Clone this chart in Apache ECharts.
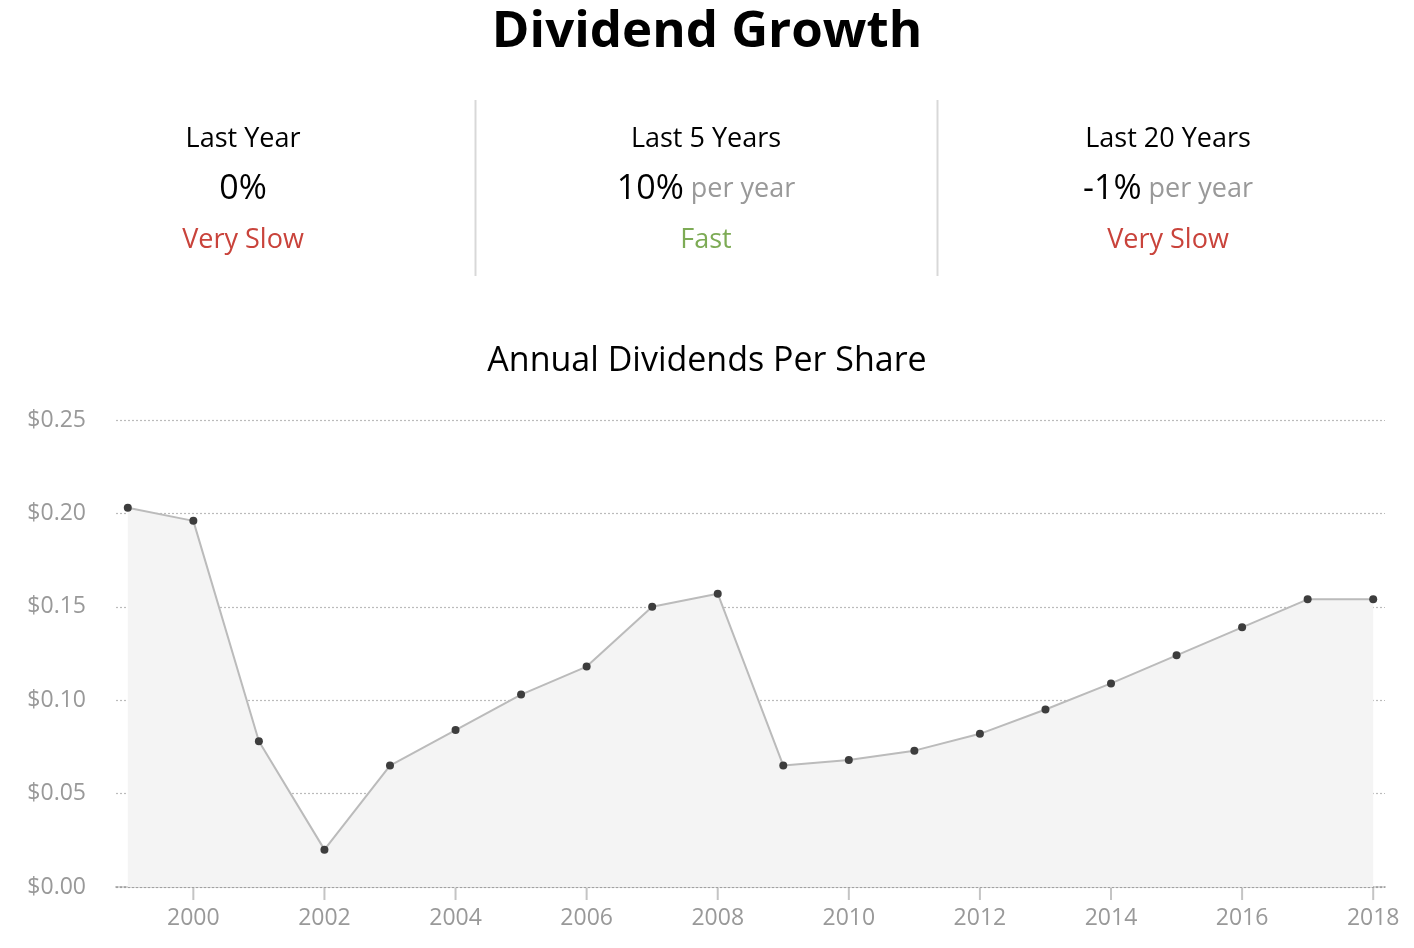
<!DOCTYPE html>
<html>
<head>
<meta charset="utf-8">
<script src="https://cdn.jsdelivr.net/npm/echarts@6/dist/echarts.min.js"></script>
<style>
html,body{margin:0;padding:0;background:#fff;}
#main{width:1414px;height:948px;}
</style>
</head>
<body>
<div id="main"></div>
<script>
const years = [1999,2000,2001,2002,2003,2004,2005,2006,2007,2008,2009,2010,2011,2012,2013,2014,2015,2016,2017,2018];
const dividends = [0.203,0.196,0.078,0.020,0.065,0.084,0.103,0.118,0.150,0.157,0.065,0.068,0.073,0.082,0.095,0.109,0.124,0.139,0.154,0.154];
const xTickYears = [2000,2002,2004,2006,2008,2010,2012,2014,2016,2018];
const statLabels = ['Last Year','Last 5 Years','Last 20 Years'];
const statValues = ['0%','10%','-1%'];
const statSuffix = ['',' per year',' per year'];
const statRatings = ['Very Slow','Fast','Very Slow'];
const ratingColors = {'Very Slow':'#c9433b','Fast':'#7dab55'};

const FONT = '"Open Sans", "Noto Sans", sans-serif';
const chart = echarts.init(document.getElementById('main'));

const colCenters = [243, 706, 1168];
const graphics = [];
for (let i = 0; i < 3; i++) {
  graphics.push({
    type:'text', x: colCenters[i], y: 139,
    style:{text: statLabels[i], font: '27px ' + FONT, fill:'#000', textAlign:'center', textVerticalAlign:'middle'}
  });
  graphics.push({
    type:'text', x: colCenters[i], y: 189,
    style:{
      text: '{v|' + statValues[i] + '}' + (statSuffix[i] ? '{s|' + statSuffix[i] + '}' : ''),
      textAlign:'center', textVerticalAlign:'middle',
      rich:{
        v:{fontSize:34, fontFamily:FONT, fill:'#000', color:'#000'},
        s:{fontSize:27, fontFamily:FONT, fill:'#999', color:'#999'}
      }
    }
  });
  graphics.push({
    type:'text', x: colCenters[i], y: 240,
    style:{text: statRatings[i], font: '27px ' + FONT, fill: ratingColors[statRatings[i]], textAlign:'center', textVerticalAlign:'middle'}
  });
}
graphics.push({type:'line', shape:{x1:475.5,y1:100,x2:475.5,y2:276}, style:{stroke:'#d8d8d8', lineWidth:2}});
graphics.push({type:'line', shape:{x1:937.5,y1:100,x2:937.5,y2:276}, style:{stroke:'#d8d8d8', lineWidth:2}});

chart.setOption({
  animation:false,
  backgroundColor:'#fff',
  title:[
    {text:'Dividend Growth', left:'center', top:2, textStyle:{fontFamily:FONT, fontSize:51, fontWeight:'bold', color:'#000'}},
    {text:'Annual Dividends Per Share', left:'center', top:339, textStyle:{fontFamily:FONT, fontSize:34, fontWeight:'normal', color:'#000'}}
  ],
  graphic: graphics,
  grid:{left:116, right:29, top:420, bottom:61, containLabel:false},
  xAxis:{
    type:'value', min:1998.82, max:2018.18,
    axisLine:{show:true, lineStyle:{color:'#999', type:[2,2], width:1.5}},
    axisTick:{show:false},
    axisLabel:{show:true, customValues: xTickYears, color:'#999', fontSize:23, fontFamily:FONT, margin:20, formatter: v => String(v)},
    splitLine:{show:false}
  },
  yAxis:{
    type:'value', min:0, max:0.25, interval:0.05,
    axisLine:{show:false}, axisTick:{show:false},
    axisLabel:{color:'#999', fontSize:23, fontFamily:FONT, margin:30, formatter: v => '$' + v.toFixed(2)},
    splitLine:{show:true, lineStyle:{color:'#bbb', type:[2,2], width:1.2}}
  },
  series:[{
    type:'line',
    data: years.map((y,i) => [y, dividends[i]]),
    symbol:'circle', symbolSize:8,
    itemStyle:{color:'#3d3d3d'},
    lineStyle:{color:'#bbb', width:2},
    areaStyle:{color:'#f4f4f4', opacity:1},
    z:3
  },{
    type:'custom',
    clip:false,
    silent:true,
    data: xTickYears.map(y => [y, 0]),
    renderItem: (params, api) => {
      const p = api.coord([api.value(0), 0]);
      return {type:'line', shape:{x1:p[0], y1:p[1] + 1, x2:p[0], y2:p[1] + 13}, style:{stroke:'#c4c4c4', lineWidth:2}};
    },
    z:4
  }]
});
</script>
</body>
</html>
